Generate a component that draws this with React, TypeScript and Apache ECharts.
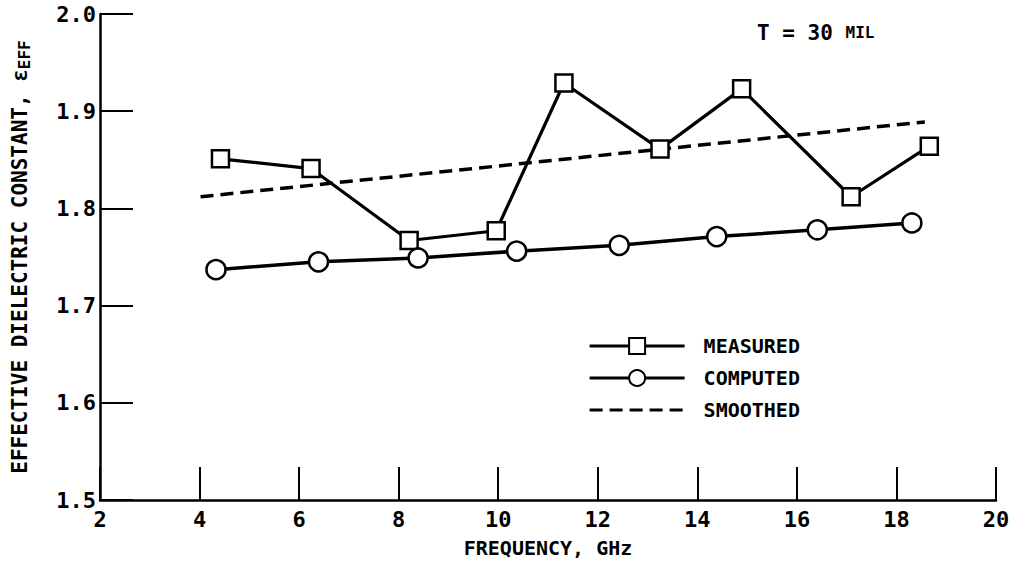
import React, { useEffect, useRef } from "react";
import * as echarts from "echarts";

const xTicks = [2, 4, 6, 8, 10, 12, 14, 16, 18, 20];
const yTicks = [1.5, 1.6, 1.7, 1.8, 1.9, 2.0];

const measuredFreq = [4.42, 6.24, 8.21, 9.96, 11.32, 13.25, 14.89, 17.09, 18.66];
const measuredEps = [1.851, 1.841, 1.767, 1.777, 1.929, 1.861, 1.923, 1.812, 1.864];

const computedFreq = [4.33, 6.39, 8.39, 10.37, 12.43, 14.39, 16.41, 18.31];
const computedEps = [1.737, 1.745, 1.749, 1.756, 1.762, 1.771, 1.778, 1.785];

const smoothedFreq = [4.02, 18.57];
const smoothedEps = [1.812, 1.889];

const FONT = '"DejaVu Sans Mono", monospace';

const pairs = (xs: number[], ys: number[]) => xs.map((x, i) => [x, ys[i]]);

export default function App() {
  const ref = useRef<HTMLDivElement>(null);
  useEffect(() => {
    if (!ref.current) return;
    const chart = echarts.init(ref.current, null, { renderer: "svg" });
    chart.setOption({
      animation: false,
      backgroundColor: "#ffffff",
      grid: { left: 100, right: 17, top: 14, bottom: 66, containLabel: false },
      xAxis: {
        type: "value",
        min: xTicks[0],
        max: xTicks[xTicks.length - 1],
        interval: 2,
        name: "FREQUENCY, GHz",
        nameLocation: "middle",
        nameGap: 38,
        nameTextStyle: { fontFamily: FONT, fontSize: 20, fontWeight: "bold", color: "#000" },
        axisLine: { lineStyle: { color: "#000", width: 2.5 } },
        axisTick: { inside: true, length: 33, lineStyle: { color: "#000", width: 2 } },
        axisLabel: { fontFamily: FONT, fontSize: 22, fontWeight: "bold", color: "#000", margin: 8 },
        splitLine: { show: false },
      },
      yAxis: {
        type: "value",
        min: yTicks[0],
        max: yTicks[yTicks.length - 1],
        interval: 0.1,
        name: "EFFECTIVE DIELECTRIC CONSTANT, ε{sub|EFF}",
        nameLocation: "middle",
        nameRotate: 90,
        nameGap: 68,
        nameTextStyle: {
          fontFamily: FONT,
          fontSize: 21,
          fontWeight: "bold",
          color: "#000",
          rich: {
            sub: { fontFamily: FONT, fontSize: 16, fontWeight: "bold", color: "#000", padding: [9, 0, 0, 0] },
          },
        },
        axisLine: { lineStyle: { color: "#000", width: 2.5 } },
        axisTick: { inside: true, length: 33, lineStyle: { color: "#000", width: 2 } },
        axisLabel: {
          fontFamily: FONT,
          fontSize: 22,
          fontWeight: "bold",
          color: "#000",
          margin: 4,
          formatter: (v: number) => v.toFixed(1),
        },
        splitLine: { show: false },
      },
      legend: {
        orient: "vertical",
        left: 583,
        top: 331,
        itemWidth: 95,
        itemHeight: 20,
        itemGap: 12,
        lineStyle: { width: 3.2 },
        textStyle: { fontFamily: FONT, fontSize: 20, fontWeight: "bold", color: "#000", padding: [0, 0, 0, 14] },
        data: [
          { name: "MEASURED" },
          { name: "COMPUTED" },
          { name: "SMOOTHED", itemStyle: { opacity: 0 } },
        ],
      },
      graphic: [
        {
          type: "text",
          left: 757,
          top: 22,
          style: {
            text: "T = 30 {s|MIL}",
            fontFamily: FONT,
            fontSize: 21,
            fontWeight: "bold",
            fill: "#000",
            rich: { s: { fontFamily: FONT, fontSize: 16, fontWeight: "bold", fill: "#000" } },
          },
        },
      ],
      series: [
        {
          name: "MEASURED",
          type: "line",
          data: pairs(measuredFreq, measuredEps),
          symbol: "rect",
          symbolSize: 17,
          lineStyle: { color: "#000", width: 3.2 },
          itemStyle: { color: "#fff", borderColor: "#000", borderWidth: 2.5 },
          z: 3,
        },
        {
          name: "COMPUTED",
          type: "line",
          data: pairs(computedFreq, computedEps),
          symbol: "circle",
          symbolSize: 19,
          lineStyle: { color: "#000", width: 3.5 },
          itemStyle: { color: "#fff", borderColor: "#000", borderWidth: 2.5 },
          z: 3,
        },
        {
          name: "SMOOTHED",
          type: "line",
          data: pairs(smoothedFreq, smoothedEps),
          symbol: "none",
          lineStyle: { color: "#000", width: 3.5, type: [13, 7] },
          itemStyle: { color: "#000" },
          z: 2,
        },
      ],
    });
    return () => chart.dispose();
  }, []);
  return (
    <div
      ref={ref}
      style={{ position: "fixed", left: 0, top: 0, width: 1013, height: 566, background: "#fff" }}
    />
  );
}
